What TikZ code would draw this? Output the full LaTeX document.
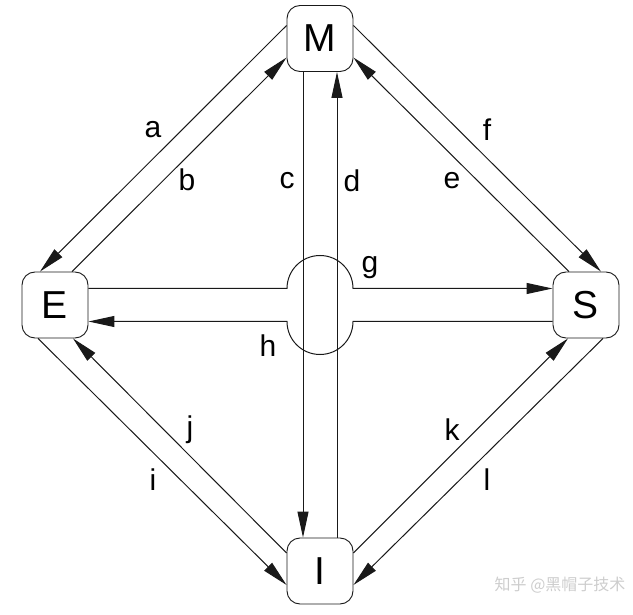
\documentclass[tikz,border=0pt]{standalone}
\usepackage{fontspec}
\setmainfont{Liberation Sans}
\newfontfamily\cjkfont{Noto Sans CJK SC}
\usetikzlibrary{arrows.meta, calc}
\definecolor{inkgray}{RGB}{25,25,25}
\definecolor{markgray}{RGB}{205,205,205}

\begin{document}
\begin{tikzpicture}[x=1pt, y=1pt,
    state/.style={draw=inkgray, rounded corners=13pt, minimum size=66pt, inner sep=0pt, line width=0.9pt, font=\fontsize{39}{39}\selectfont},
    flow/.style={draw=inkgray, line width=1pt, -{Triangle[length=26pt, width=11pt]}},
    lbl/.style={font=\fontsize{30}{30}\selectfont}]
        \useasboundingbox (0,0) rectangle (633,-615);

        % States
        \node[state] (M) at (320,-38.5) {M};
        \node[state] (E) at (55,-305) {E};
        \node[state] (S) at (586,-305) {S};
        \node[state] (I) at (320,-571) {I};
        \coordinate (X) at (320,-305);

        % E -- M
        \draw[flow] ([yshift=13pt]M.west) -- ([xshift=-15pt]E.north);
        \draw[flow] ([xshift=17pt]E.north) -- ([yshift=-19pt]M.west);

        % M -- S
        \draw[flow] ([yshift=13pt]M.east) -- ([xshift=15pt]S.north);
        \draw[flow] ([xshift=-17pt]S.north) -- ([yshift=-19pt]M.east);

        % M -- I
        \draw[flow] ([xshift=-17pt]M.south) -- ([xshift=-17pt]I.north);
        \draw[flow] ([xshift=17pt]I.north) -- ([xshift=17pt]M.south);

        % E -- S, bridged over the middle
        \draw[flow] ([yshift=16.5pt]E.east) -- ($(X)+(-33,16.5)$)
            arc[start angle=180, end angle=0, radius=33] -- ([yshift=16.5pt]S.west);
        \draw[flow] ([yshift=-16.5pt]S.west) -- ($(X)+(33,-16.5)$)
            arc[start angle=0, end angle=-180, radius=33] -- ([yshift=-16.5pt]E.east);

        % E -- I
        \draw[flow] ([xshift=-17pt]E.south) -- ([yshift=-14pt]I.west);
        \draw[flow] ([yshift=18pt]I.west) -- ([xshift=18pt]E.south);

        % I -- S
        \draw[flow] ([yshift=18pt]I.east) -- ([xshift=-18pt]S.south);
        \draw[flow] ([xshift=17pt]S.south) -- ([yshift=-14pt]I.east);

        % Labels
        \node[lbl] (la) at (153,-130) {a};
        \node[lbl] (lb) at (187,-180) {b};
        \node[lbl] (lc) at (287,-181) {c};
        \node[lbl] (ld) at (352,-181) {d};
        \node[lbl] (le) at (452,-181) {e};
        \node[lbl] (lf) at (487,-130) {f};
        \node[lbl] (lg) at (370,-268) {g};
        \node[lbl] (lh) at (268,-346) {h};
        \node[lbl] (li) at (153,-480) {i};
        \node[lbl] (lj) at (190,-430) {j};
        \node[lbl] (lk) at (452,-430) {k};
        \node[lbl] (ll) at (487,-480) {l};

        % Watermark
        \node[anchor=east, text=markgray, font=\cjkfont\fontsize{16}{16}\selectfont] (mark) at (629,-585) {知乎 @黑帽子技术};
    \end{tikzpicture}
\end{document}
